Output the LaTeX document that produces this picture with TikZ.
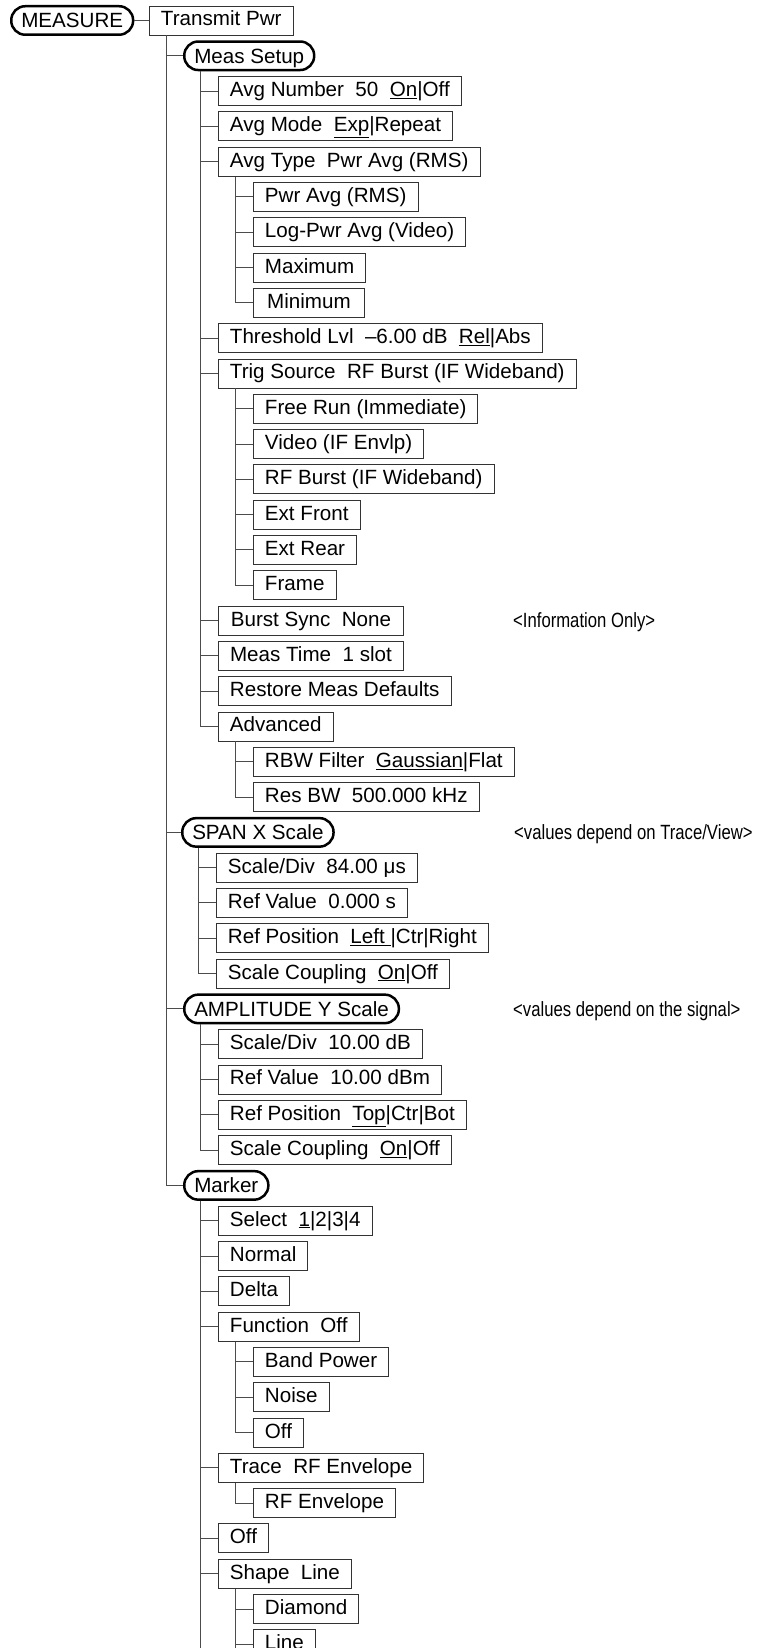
\documentclass[tikz,border=0pt]{standalone}
\usepackage{fontspec}
\setmainfont{Liberation Sans}
\newfontfamily\notefont[FakeStretch=0.81]{Liberation Sans}
\usepackage{tikz}
\newcommand{\menufont}{\fontsize{20.6pt}{24pt}\selectfont}

\begin{document}
\begin{tikzpicture}[x=1pt, y=-35.3pt,
    item/.style={draw=black!80, line width=0.9pt, anchor=west, minimum height=29pt, inner xsep=11.5pt, inner ysep=0pt, text height=20pt, text depth=9pt, font=\menufont},
    key/.style={draw=black, line width=2.5pt, rounded corners=14pt, anchor=west, minimum height=28.5pt, inner xsep=10pt, inner ysep=0pt, text height=21.5pt, text depth=7pt, font=\menufont},
    note/.style={anchor=base west, inner sep=0pt, yshift=-7.3pt, font=\notefont\menufont},
    link/.style={draw=black!70, line width=1pt}]
\useasboundingbox (0,-0.58) rectangle (756,46.105);
\clip (0,-0.58) rectangle (756,46.105);
\coordinate (bottom) at (0,46.3);
% top level
\node[key] (meas) at (10,0) {MEASURE};
\node[item] (tx) at (149,0) {Transmit Pwr};
% Meas Setup
\node[key] (setup) at (183,1) {Meas Setup};
\node[item] (avgnum) at (218,2) {Avg Number~ 50~ \underline{On}|Off};
\node[item] (avgmode) at (218,3) {Avg Mode~ \underline{Exp}|Repeat};
\node[item] (avgtype) at (218,4) {Avg Type~ Pwr Avg (RMS)};
\node[item] (pwravg) at (253,5) {Pwr Avg (RMS)};
\node[item] (logpwr) at (253,6) {Log-Pwr Avg (Video)};
\node[item] (maxi) at (253,7) {Maximum};
\node[item, minimum width=111pt] (mini) at (253,8) {Minimum};
\node[item] (thresh) at (218,9) {Threshold Lvl~ --6.00 dB~ \underline{Rel}|Abs};
\node[item] (trigsrc) at (218,10) {Trig Source~ RF Burst (IF Wideband)};
\node[item] (freerun) at (253,11) {Free Run (Immediate)};
\node[item] (video) at (253,12) {Video (IF Envlp)};
\node[item] (rfburst) at (253,13) {RF Burst (IF Wideband)};
\node[item] (extfront) at (253,14) {Ext Front};
\node[item] (extrear) at (253,15) {Ext Rear};
\node[item] (frame) at (253,16) {Frame};
\node[item, minimum width=185pt] (burst) at (218,17) {Burst Sync~ None};
\node[item, minimum width=185pt] (meastime) at (218,18) {Meas Time~ 1 slot};
\node[item] (restore) at (218,19) {Restore Meas Defaults};
\node[item] (adv) at (218,20) {Advanced};
\node[item] (rbw) at (253,21) {RBW Filter~ \underline{Gaussian}|Flat};
\node[item] (resbw) at (253,22) {Res BW~ 500.000 kHz};
% SPAN X Scale
\node[key] (span) at (181,23) {SPAN X Scale};
\node[item] (xdiv) at (216,24) {Scale/Div~ 84.00 μs};
\node[item] (xref) at (216,25) {Ref Value~ 0.000 s};
\node[item] (xpos) at (216,26) {Ref Position~ \underline{Left\ }|Ctr|Right};
\node[item] (xcoup) at (216,27) {Scale Coupling~ \underline{On}|Off};
% AMPLITUDE Y Scale
\node[key] (amp) at (183,28) {AMPLITUDE Y Scale};
\node[item] (ydiv) at (218,29) {Scale/Div~ 10.00 dB};
\node[item] (yref) at (218,30) {Ref Value~ 10.00 dBm};
\node[item] (ypos) at (218,31) {Ref Position~ \underline{Top}|Ctr|Bot};
\node[item] (ycoup) at (218,32) {Scale Coupling~ \underline{On}|Off};
% Marker
\node[key] (marker) at (183,33) {Marker};
\node[item] (select) at (218,34) {Select~ \underline{1}|2|3|4};
\node[item] (normal) at (218,35) {Normal};
\node[item] (delta) at (218,36) {Delta};
\node[item] (func) at (218,37) {Function~ Off};
\node[item] (bandpwr) at (253,38) {Band Power};
\node[item] (noise) at (253,39) {Noise};
\node[item] (fnoff) at (253,40) {Off};
\node[item] (trace) at (218,41) {Trace~ RF Envelope};
\node[item] (rfenv) at (253,42) {RF Envelope};
\node[item] (mkoff) at (218,43) {Off};
\node[item] (shape) at (218,44) {Shape~ Line};
\node[item] (diamond) at (253,45) {Diamond};
\node[item] (line) at (253,46) {Line};
% side notes
\node[note] (info) at (513,17) {<Information Only>};
\node[note] (xnote) at (514,23) {<values depend on Trace/View>};
\node[note] (ynote) at (513,28) {<values depend on the signal>};
% connectors
\draw[link] (meas) -- (tx);
\draw[link] ([xshift=17.5pt]tx.south west) |- (setup.west);
\draw[link] ([xshift=17.5pt]tx.south west) |- (span.west);
\draw[link] ([xshift=17.5pt]tx.south west) |- (amp.west);
\draw[link] ([xshift=17.5pt]tx.south west) |- (marker.west);
\draw[link] ([xshift=17.5pt]setup.south west) |- (avgnum.west);
\draw[link] ([xshift=17.5pt]setup.south west) |- (avgmode.west);
\draw[link] ([xshift=17.5pt]setup.south west) |- (avgtype.west);
\draw[link] ([xshift=17.5pt]setup.south west) |- (thresh.west);
\draw[link] ([xshift=17.5pt]setup.south west) |- (trigsrc.west);
\draw[link] ([xshift=17.5pt]setup.south west) |- (burst.west);
\draw[link] ([xshift=17.5pt]setup.south west) |- (meastime.west);
\draw[link] ([xshift=17.5pt]setup.south west) |- (restore.west);
\draw[link] ([xshift=17.5pt]setup.south west) |- (adv.west);
\draw[link] ([xshift=17.5pt]avgtype.south west) |- (pwravg.west);
\draw[link] ([xshift=17.5pt]avgtype.south west) |- (logpwr.west);
\draw[link] ([xshift=17.5pt]avgtype.south west) |- (maxi.west);
\draw[link] ([xshift=17.5pt]avgtype.south west) |- (mini.west);
\draw[link] ([xshift=17.5pt]trigsrc.south west) |- (freerun.west);
\draw[link] ([xshift=17.5pt]trigsrc.south west) |- (video.west);
\draw[link] ([xshift=17.5pt]trigsrc.south west) |- (rfburst.west);
\draw[link] ([xshift=17.5pt]trigsrc.south west) |- (extfront.west);
\draw[link] ([xshift=17.5pt]trigsrc.south west) |- (extrear.west);
\draw[link] ([xshift=17.5pt]trigsrc.south west) |- (frame.west);
\draw[link] ([xshift=17.5pt]adv.south west) |- (rbw.west);
\draw[link] ([xshift=17.5pt]adv.south west) |- (resbw.west);
\draw[link] ([xshift=17.5pt]span.south west) |- (xdiv.west);
\draw[link] ([xshift=17.5pt]span.south west) |- (xref.west);
\draw[link] ([xshift=17.5pt]span.south west) |- (xpos.west);
\draw[link] ([xshift=17.5pt]span.south west) |- (xcoup.west);
\draw[link] ([xshift=17.5pt]amp.south west) |- (ydiv.west);
\draw[link] ([xshift=17.5pt]amp.south west) |- (yref.west);
\draw[link] ([xshift=17.5pt]amp.south west) |- (ypos.west);
\draw[link] ([xshift=17.5pt]amp.south west) |- (ycoup.west);
\draw[link] ([xshift=17.5pt]marker.south west) |- (select.west);
\draw[link] ([xshift=17.5pt]marker.south west) |- (normal.west);
\draw[link] ([xshift=17.5pt]marker.south west) |- (delta.west);
\draw[link] ([xshift=17.5pt]marker.south west) |- (func.west);
\draw[link] ([xshift=17.5pt]marker.south west) |- (trace.west);
\draw[link] ([xshift=17.5pt]marker.south west) |- (mkoff.west);
\draw[link] ([xshift=17.5pt]marker.south west) |- (shape.west);
\draw[link] ([xshift=17.5pt]marker.south west) -- ([xshift=17.5pt]marker.south west |- bottom);
\draw[link] ([xshift=17.5pt]func.south west) |- (bandpwr.west);
\draw[link] ([xshift=17.5pt]func.south west) |- (noise.west);
\draw[link] ([xshift=17.5pt]func.south west) |- (fnoff.west);
\draw[link] ([xshift=17.5pt]trace.south west) |- (rfenv.west);
\draw[link] ([xshift=17.5pt]shape.south west) |- (diamond.west);
\draw[link] ([xshift=17.5pt]shape.south west) |- (line.west);
\draw[link] ([xshift=17.5pt]shape.south west) -- ([xshift=17.5pt]shape.south west |- bottom);
\end{tikzpicture}
\end{document}
